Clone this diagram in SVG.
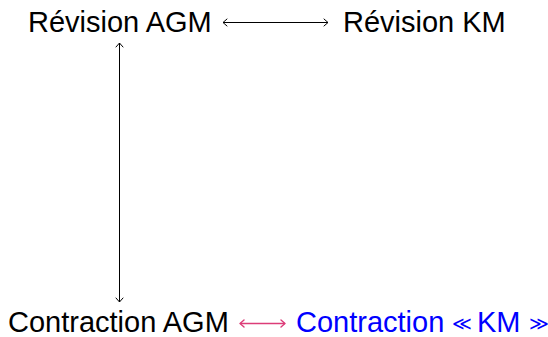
<svg xmlns="http://www.w3.org/2000/svg" width="548" height="337" viewBox="0 0 548 337">
<style>
.t{font-family:"Liberation Sans",Arial,sans-serif;font-size:29px;fill:#000}
.b{fill:#0000ff}
.m{font-family:"DejaVu Sans",sans-serif;font-size:19px;fill:#0000ff}
.c{fill:none;stroke-width:1}
.h{fill:none;stroke-width:1;stroke-linecap:round;stroke-linejoin:round}
.r{stroke-width:1.4}
</style>
<rect width="548" height="337" fill="#fff"/>
<g id="revAGM"><text class="t" x="28" y="32">Révision AGM</text></g>
<g id="revKM"><text class="t" x="343" y="32">Révision KM</text></g>
<g id="conAGM"><text class="t" x="8" y="332">Contraction AGM</text></g>
<g id="conKM"><text class="t b" x="296" y="332">Contraction <tspan class="m" x="452" y="330">≪</tspan><tspan x="477" y="332">KM</tspan><tspan class="m" x="529" y="330">≫</tspan></text></g>
<g id="connectors">
<g stroke="#000">
<path class="c" d="M223 22.5H328"/>
<path class="h" d="M227 19 L223 22.5 L227 26 M324 19 L328 22.5 L324 26"/>
<path class="c" d="M119.5 43V302"/>
<path class="h" d="M116 47 L119.5 43 L123 47 M116 298 L119.5 302 L123 298"/>
</g>
<g stroke="#dc3c78">
<path class="c r" d="M240 323.5H285"/>
<path class="h r" d="M244 320 L240 323.5 L244 327 M281 320 L285 323.5 L281 327"/>
</g>
</g>
</svg>
